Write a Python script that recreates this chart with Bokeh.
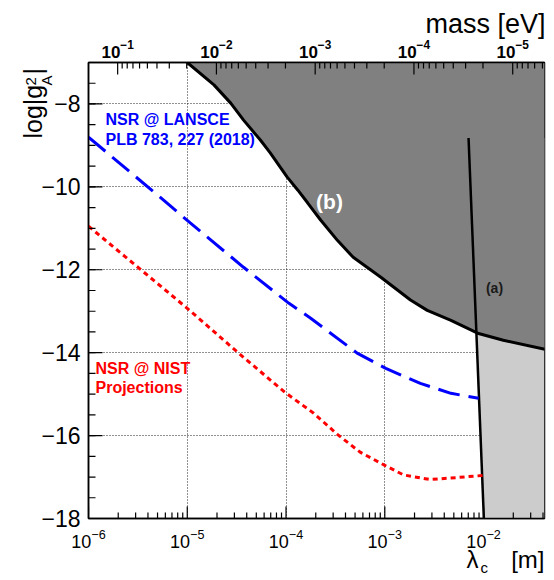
import math
from bokeh.plotting import figure
from bokeh.layouts import column
from bokeh.models import (Range1d, LogScale, LogAxis, FixedTicker, LogTickFormatter,
                          CustomJSTickFormatter, Label)
from bokeh.embed import file_html
from bokeh.resources import INLINE

FONT = "Liberation Sans"
HBARC = 1.97327e-7  # eV * m, converts lambda_c [m] to mass [eV]

X_START, X_END = 1e-6, 0.0414
Y_START, Y_END = -18.0, -7.0

x_major = [1e-6, 1e-5, 1e-4, 1e-3, 1e-2]
y_major = [-18, -16, -14, -12, -10, -8]
mass_major = [1e-1, 1e-2, 1e-3, 1e-4, 1e-5]

# (b) excluded region boundary: log10(lambda_c [m]) vs log|g_A^2|
b_log_lam = [-5.00, -4.73, -4.56, -4.43, -4.26, -4.16, -3.99, -3.88, -3.78, -3.65,
             -3.48, -3.32, -3.18, -3.04, -2.74, -2.57, -2.33, -2.06, -1.80, -1.38]
b_log_g = [-7.00, -7.54, -7.98, -8.39, -8.87, -9.18, -9.76, -10.08, -10.39, -10.80,
           -11.29, -11.70, -11.94, -12.18, -12.73, -12.98, -13.22, -13.53, -13.70, -13.92]

# (a) limit line (top end, bottom end)
a_log_lam = [-2.152, -1.997]
a_log_g = [-8.82, -18.0]

# NSR @ LANSCE (PLB 783, 227 (2018))
lansce_log_lam = [-6.00, -5.24, -4.97, -4.43, -3.97, -3.75, -3.28, -2.99, -2.64, -2.33, -2.05]
lansce_log_g = [-8.80, -10.32, -10.87, -11.94, -12.81, -13.17, -14.01, -14.38, -14.74, -14.98, -15.10]

# NSR @ NIST projections
nist_log_lam = [-6.00, -5.00, -4.49, -4.01, -3.72, -3.48, -3.25, -2.99, -2.81, -2.54, -2.26, -2.00]
nist_log_g = [-10.95, -12.93, -13.99, -14.96, -15.46, -15.97, -16.40, -16.73, -16.95, -17.06, -17.01, -16.96]


def lam(v):
    return [10.0 ** t for t in v]


W, H = 554, 580
FRAME_W = FRAME_H = 456
p = figure(width=W, height=H, x_axis_type="log",
           x_range=Range1d(X_START, X_END), y_range=Range1d(Y_START, Y_END),
           output_backend="svg", toolbar_location=None,
           min_border_left=88, min_border_right=10, min_border_top=62, min_border_bottom=62)
p.background_fill_color = "white"
p.border_fill_color = "white"
p.outline_line_color = "black"
p.outline_line_width = 1.5

# top mass axis
p.extra_x_ranges = {"mass": Range1d(start=HBARC / X_START, end=HBARC / X_END)}
p.extra_x_scales = {"mass": LogScale()}
mass_lo, mass_hi = HBARC / X_END, HBARC / X_START
mass_minor = [m * 10.0 ** e for e in range(-7, 0) for m in range(2, 10)
              if mass_lo <= m * 10.0 ** e <= mass_hi]
top = LogAxis(x_range_name="mass",
              ticker=FixedTicker(ticks=mass_major, minor_ticks=[]),
              formatter=LogTickFormatter())
p.add_layout(top, "above")

x_minor = [m * 10.0 ** e for e in range(-6, -1) for m in range(2, 10) if m * 10.0 ** e <= X_END]
y_minor = [Y_START + 0.5 * i for i in range(23)]
bottom = p.below[0]
bottom.ticker = FixedTicker(ticks=x_major, minor_ticks=[])
bottom.formatter = LogTickFormatter()

left = p.left[0]
left.ticker = FixedTicker(ticks=y_major, minor_ticks=[])
left.formatter = CustomJSTickFormatter(code="return (tick < 0 ? '\u2212' : '') + Math.abs(tick).toFixed(0);")


def style_axis(ax, size, bold, standoff):
    ax.axis_line_color = "black"
    ax.axis_line_width = 1.5
    ax.major_tick_in = 0
    ax.major_tick_out = 0
    ax.minor_tick_in = 0
    ax.minor_tick_out = 0
    ax.major_label_text_font = FONT
    ax.major_label_text_font_size = size
    ax.major_label_text_font_style = "bold" if bold else "normal"
    ax.major_label_text_color = "black"
    ax.major_label_standoff = standoff


style_axis(left, "23px", False, 8)
style_axis(bottom, "18px", False, 10)
style_axis(top, "17px", True, 5)

for g in (p.xgrid[0], p.ygrid[0]):
    g.grid_line_color = "#222222"
    g.grid_line_dash = "1 2"
    g.grid_line_width = 1

# light grey region right of line (a)
p.patch(x=[10.0 ** a_log_lam[1], 10.0 ** a_log_lam[0], X_END, X_END],
        y=[a_log_g[1], a_log_g[0], a_log_g[0], a_log_g[1]],
        fill_color="#cccccc", line_color=None)
# dark grey region (b)
p.varea(x=lam(b_log_lam), y1=b_log_g, y2=[Y_END] * len(b_log_g), fill_color="#808080")
p.line(lam(b_log_lam), b_log_g, line_color="black", line_width=3)
p.line(lam(a_log_lam), a_log_g, line_color="black", line_width=2.5)

p.line(lam(lansce_log_lam), lansce_log_g, line_color="#0000ff", line_width=3, line_dash="22 9")
p.line(lam(nist_log_lam), nist_log_g, line_color="#ff0000", line_width=3, line_dash="5 4")

# inward tick marks (drawn through the plot's own scales)
YPX = FRAME_H / (Y_END - Y_START)                 # px per y unit
XPX = FRAME_W / math.log10(X_END / X_START)       # px per decade


def xticks(vals, y0, length_px, sign):
    p.segment(x0=vals, y0=[y0] * len(vals), x1=vals, y1=[y0 + sign * length_px / YPX] * len(vals),
              line_color="black", line_width=1.2)


xticks(x_major, Y_START, 12, 1)
xticks(x_minor, Y_START, 6, 1)
top_major_lam = [HBARC / m for m in mass_major]
top_minor_lam = [HBARC / m for m in mass_minor]
xticks(top_major_lam, Y_END, 12, -1)
xticks(top_minor_lam, Y_END, 6, -1)


def yticks(vals, length_px):
    x1 = X_START * 10.0 ** (length_px / XPX)
    p.segment(x0=[X_START] * len(vals), y0=vals, x1=[x1] * len(vals), y1=vals,
              line_color="black", line_width=1.2)


yticks(y_major, 14)
yticks(y_minor, 7)

FX, FY = 88, 518   # frame bottom-left in page pixels
MID = 0.35         # text-box centre above the baseline, in em


def lab(text, px, base_y, size, color="black", bold=False, align="left"):
    py = base_y - MID * size
    p.add_layout(Label(x=px - FX, y=FY - py, x_units="screen", y_units="screen", text=text,
                       text_font=FONT, text_font_size=f"{size}px", text_color=color,
                       text_font_style="bold" if bold else "normal",
                       text_align=align, text_baseline="middle"))


lab("NSR @ LANSCE", 105, 125, 16, "#0000ff", True)
lab("PLB 783, 227 (2018)", 105, 145, 16, "#0000ff", True)
lab("NSR @ NIST", 95, 374, 16, "#ff0000", True)
lab("Projections", 95, 393, 16, "#ff0000", True)
lab("(b)", 329, 208, 21, "white", True, "center")
lab("(a)", 494, 292, 14, "#1a1a1a", True, "center")

# transparent overlay canvas carrying the axis titles (outside the main frame)
ov = figure(width=W, height=H, output_backend="svg", toolbar_location=None,
            x_axis_location=None, y_axis_location=None, min_border=0,
            x_range=Range1d(0, 1), y_range=Range1d(0, 1))
ov.xgrid.visible = False
ov.ygrid.visible = False
ov.outline_line_color = None
ov.background_fill_color = None
ov.border_fill_color = None
ov.styles = {"position": "absolute", "left": "0px", "top": "0px"}


def title_lab(side, text, px, py, size, align="left", vertical=False):
    # (px, py): start of the baseline in page pixels
    if vertical:
        px, angle = px - MID * size, math.pi / 2
    else:
        py, angle = py - MID * size, 0.0
    ov.add_layout(Label(x=px, y=py, x_units="canvas", y_units="canvas", text=text,
                        text_font=FONT, text_font_size=f"{size}px", text_color="black",
                        text_align=align, text_baseline="middle", angle=angle), side)


title_lab("above", "mass [eV]", 545, 33, 27, align="right")
title_lab("below", "[m]", 544, 567, 24, align="right")
title_lab("below", "\u03bb", 466, 567, 24)
title_lab("below", "c", 480, 572, 15)
title_lab("left", "log|g", 41, 138, 25, vertical=True)
title_lab("left", "2", 36, 85, 15, vertical=True)
title_lab("left", "A", 51, 85, 15, vertical=True)
title_lab("left", "|", 41, 74, 25, vertical=True)

page = column(p, ov)
open("out.html", "w").write(file_html(page, INLINE))
